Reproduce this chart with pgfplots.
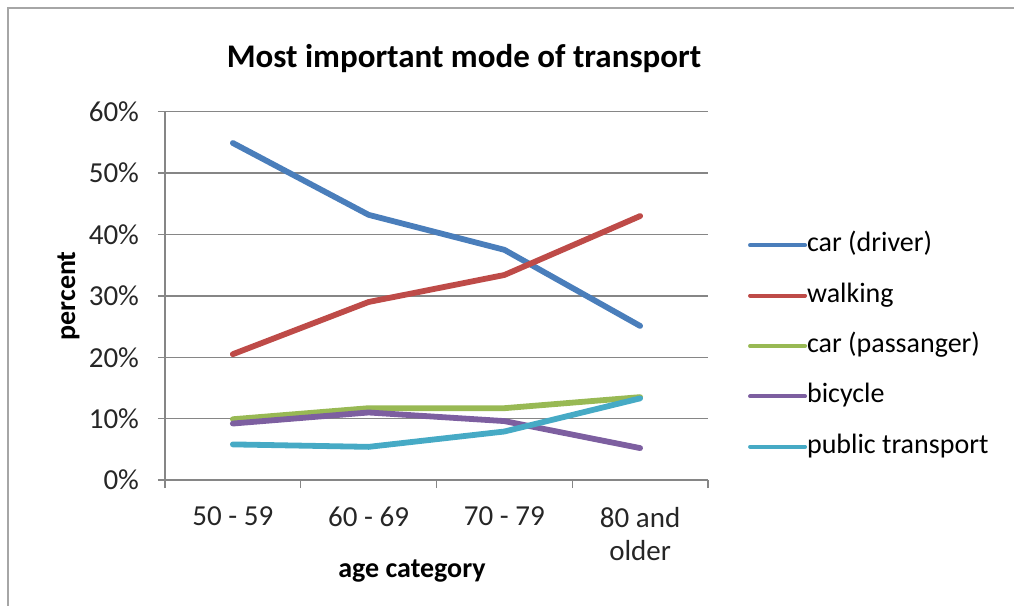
\documentclass[border=0pt]{standalone}
\usepackage{pgfplots}
\pgfplotsset{compat=1.18}
\usepackage{fontspec}
\setmainfont{Carlito}
\definecolor{cblue}{HTML}{4A7EBB}
\definecolor{cred}{HTML}{BE4B48}
\definecolor{cgreen}{HTML}{98B954}
\definecolor{cpurple}{HTML}{7D5FA0}
\definecolor{ccyan}{HTML}{46AAC5}
\definecolor{gridc}{HTML}{868686}
\begin{document}
\begin{tikzpicture}
\path[use as bounding box] (0,0) rectangle (507pt,-303pt);
\draw[color=black!35, line width=1pt] (4pt,-303pt) -- (4pt,-4pt) -- (507pt,-4pt);
\begin{axis}[
  at={(82.5pt,-240pt)}, anchor=south west,
  scale only axis, width=271.5pt, height=184.15pt,
  xmin=0.5, xmax=4.5, ymin=0, ymax=60,
  axis x line*=bottom, axis y line*=left,
  axis line style={gridc, line width=0.7pt, -},
  xtick={1,2,3,4},
  xticklabels={50 - 59, 60 - 69, 70 - 79, {80 and\\older}},
  major x tick style={draw=none},
  minor xtick={0.5,1.5,2.5,3.5,4.5},
  minor x tick style={gridc, line width=0.7pt},
  minor tick length=4pt,
  ytick={0,10,...,60},
  major tick length=3.5pt,
  tick align=outside,
  ytick style={gridc, line width=0.7pt},
  ymajorgrids, grid style={gridc, line width=0.7pt},
  yticklabel={\pgfmathprintnumber{\tick}\%},
  /pgf/number format/assume math mode=true,
  tick label style={font=\fontsize{14.5}{16.5}\selectfont, black!85},
  xticklabel style={align=center, anchor=north, yshift=-6.5pt},
  yticklabel style={xshift=-6pt},
  xlabel={\textbf{age category}},
  xlabel style={at={(axis description cs:0.4549,-0.266)}, anchor=base, font=\fontsize{14}{16}\selectfont},
  ylabel={\textbf{percent}},
  ylabel style={at={(axis description cs:-0.1657,0.5)}, anchor=base, font=\fontsize{14}{16}\selectfont},
  legend style={at={(axis description cs:1.062,0.364)}, anchor=west, draw=none, fill=none,
    font=\fontsize{14}{16.5}\selectfont, row sep=11.7pt,
    nodes={inner sep=0pt, text height=10pt, text depth=3.5pt}},
  legend cell align=left,
  legend image code/.code={\draw[#1, line width=2pt] (0pt,0pt) -- (27.5pt,0pt);},
  every axis plot/.append style={line width=2.9pt, line join=round, line cap=round, no markers},
]
\addplot[cblue] coordinates {(1,54.9) (2,43.2) (3,37.5) (4,25.1)};
\addlegendentry{car (driver)}
\addplot[cred] coordinates {(1,20.5) (2,29.0) (3,33.4) (4,43.0)};
\addlegendentry{walking}
\addplot[cgreen] coordinates {(1,9.9) (2,11.7) (3,11.7) (4,13.5)};
\addlegendentry{car (passanger)}
\addplot[cpurple] coordinates {(1,9.2) (2,11.0) (3,9.6) (4,5.2)};
\addlegendentry{bicycle}
\addplot[ccyan] coordinates {(1,5.8) (2,5.4) (3,7.9) (4,13.3)};
\addlegendentry{public transport}
\end{axis}
\node[anchor=base, font=\fontsize{16.5}{20}\selectfont\bfseries] at (232pt,-33.5pt) {Most important mode of transport};
\end{tikzpicture}
\end{document}
